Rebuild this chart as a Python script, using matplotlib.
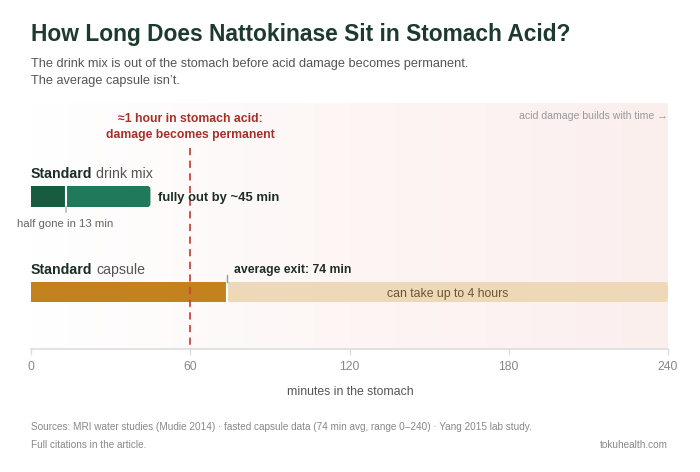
import numpy as np
import matplotlib
matplotlib.use("Agg")
import matplotlib.pyplot as plt
from matplotlib.colors import LinearSegmentedColormap
from matplotlib.patches import FancyBboxPatch

plt.rcParams['font.family'] = ['Liberation Sans', 'DejaVu Sans']

# ---- data ----
drink_half = 13
drink_full = 45
capsule_avg = 74
capsule_max = 240
acid_threshold = 60
x_ticks = [0, 60, 120, 180, 240]
x_max = 240

W, H = 700, 472
fig = plt.figure(figsize=(W / 100, H / 100), dpi=100)
fig.patch.set_facecolor('white')

def fx(px):
    return px / W

def fy(py):
    return 1 - py / H

L, R, T, B = 31, 668, 103, 349
ax = fig.add_axes([fx(L), fy(B), fx(R) - fx(L), fy(T) - fy(B)])
ax.set_xlim(0, x_max)
ax.set_ylim(B - T, 0)
for s in ax.spines.values():
    s.set_visible(False)
ax.set_yticks([])

# background gradient
cmap = LinearSegmentedColormap.from_list('bg', ['#ffffff', '#fdf6f5', '#fbefee'], N=1024)
grad = np.linspace(0, 1, 1024).reshape(1, -1)
ax.imshow(grad, extent=[0, x_max, B - T, 0], aspect='auto', cmap=cmap, zorder=0,
          interpolation='bilinear')

px_per_unit = (R - L) / x_max
rad_px = 3

def rounded_bar(x0, x1, yc, h, color, z):
    p = FancyBboxPatch((x0, yc - h / 2), x1 - x0, h,
                       boxstyle=f"round,pad=0,rounding_size={rad_px / px_per_unit}",
                       mutation_aspect=px_per_unit, fc=color, ec='none', zorder=z)
    ax.add_patch(p)

# rows (pixel layout relative to axes top)
drink_y, drink_h = 196.5 - T, 21
cap_y, cap_h = 292 - T, 20

# drink bar
rounded_bar(0, drink_full, drink_y, drink_h, '#20795a', 2)
ax.barh(drink_y, drink_half + 2, left=0, height=drink_h, color='#20795a', zorder=2.1)
ax.barh(drink_y, drink_half, left=0, height=drink_h, color='#185c40', zorder=2.2)
ax.plot([drink_half, drink_half], [drink_y - drink_h / 2, drink_y + drink_h / 2], color='white', lw=1.5, zorder=3)
ax.plot([drink_half, drink_half], [drink_y + drink_h / 2, drink_y + drink_h / 2 + 5], color='#b8bcb9', lw=1.2, zorder=3)

# capsule bar
rounded_bar(0, capsule_max, cap_y, cap_h, '#edd9b7', 2)
ax.barh(cap_y, capsule_avg, left=0, height=cap_h, color='#c4821f', zorder=2.2)
ax.plot([capsule_avg, capsule_avg], [cap_y - cap_h / 2, cap_y + cap_h / 2], color='white', lw=1.5, zorder=3)
ax.plot([capsule_avg, capsule_avg], [cap_y - cap_h / 2 - 7, cap_y - cap_h / 2], color='#9a9a9a', lw=1.0, zorder=3)

# threshold line
ax.plot([acid_threshold, acid_threshold], [148 - T, B - T], color='#c9463d', lw=1.3,
        linestyle=(0, (4, 3)), zorder=4)

# x axis
ax.axhline(B - T, color='#dddddd', lw=1.2, zorder=1, clip_on=False)
ax.set_xticks(x_ticks)
ax.set_xticklabels([str(t) for t in x_ticks])
ax.tick_params(axis='x', length=4, width=1, color='#dddddd', labelcolor='#888888',
               labelsize=8.8, pad=5)

def two_part(px, py, bold, normal, size):
    t1 = fig.text(fx(px), fy(py), bold, fontsize=size, fontweight='bold', color='#1c2e25',
                  va='center', ha='left')
    fig.canvas.draw()
    bb = t1.get_window_extent()
    fig.text(bb.x1 / W + 3.5 / W, fy(py), normal, fontsize=size, color='#555555',
             va='center', ha='left')

two_part(31, 174, 'Standard', 'drink mix', 10.2)
two_part(31, 270, 'Standard', 'capsule', 10.2)

ax.text(drink_half, 224 - T, 'half gone in 13 min', fontsize=8.2, color='#666666', ha='center', va='center')
ax.text(drink_full + 3, drink_y + 1.5, 'fully out by ~45 min', fontsize=9.4, fontweight='bold',
        color='#1c2e25', ha='left', va='center', zorder=5)
ax.text(capsule_avg + 2.3, 270 - T, 'average exit: 74 min', fontsize=8.8, fontweight='bold',
        color='#1c2e25', ha='left', va='center')
ax.text((capsule_avg + capsule_max) / 2, cap_y + 1.5, 'can take up to 4 hours', fontsize=8.8,
        color='#6b5538', ha='center', va='center', zorder=5)
ax.text(acid_threshold, 127 - T, '≈1 hour in stomach acid:\ndamage becomes permanent',
        fontsize=8.8, fontweight='bold', color='#a5302a', ha='center', va='center',
        linespacing=1.45)
ax.text(x_max, 116 - T, 'acid damage builds with time →', fontsize=7.6, color='#999999',
        ha='right', va='center')

# axis title
fig.text(fx(350), fy(392), 'minutes in the stomach', fontsize=8.8, color='#555555', ha='center', va='center')

# header
fig.text(fx(31), fy(35), 'How Long Does Nattokinase Sit in Stomach Acid?', fontsize=16.4,
         fontweight='bold', color='#1d3a2e', ha='left', va='center')
fig.text(fx(31), fy(64), 'The drink mix is out of the stomach before acid damage becomes permanent.',
         fontsize=9.2, color='#555555', ha='left', va='center')
fig.text(fx(31), fy(81), 'The average capsule isn’t.', fontsize=9.2, color='#555555',
         ha='left', va='center')

# footer
fig.text(fx(31), fy(427), 'Sources: MRI water studies (Mudie 2014) · fasted capsule data (74 min avg, range 0–240) · Yang 2015 lab study.',
         fontsize=7.2, color='#888888', ha='left', va='center')
fig.text(fx(31), fy(445), 'Full citations in the article.', fontsize=7.2, color='#888888', ha='left', va='center')
fig.text(fx(668), fy(445), 'tokuhealth.com', fontsize=7.2, color='#888888', ha='right', va='center')

fig.savefig('out.png', dpi=100)
